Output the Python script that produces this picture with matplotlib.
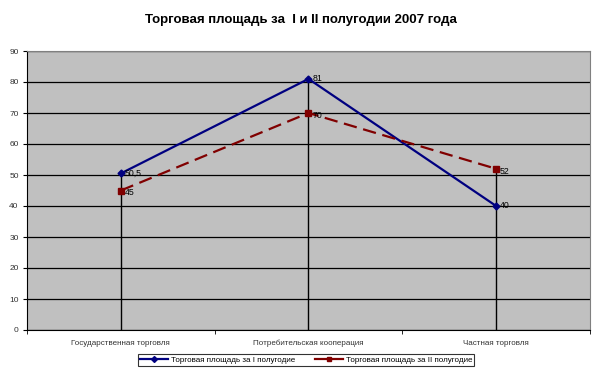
import matplotlib
matplotlib.use("Agg")
import matplotlib.pyplot as plt
import numpy as np

plt.rcParams['font.family'] = ['Liberation Sans', 'DejaVu Sans']

categories = ["Государственная торговля", "Потребительская кооперация", "Частная торговля"]
series1_name = "Торговая площадь за I полугодие"
series2_name = "Торговая площадь за II полугодие"
series1 = [50.5, 81, 40]
series2 = [45, 70, 52]
series1_labels = ["50,5", "81", "40"]
series2_labels = ["45", "70", "52"]
title = "Торговая площадь за  I и II полугодии 2007 года"

fig = plt.figure(figsize=(6.01, 3.74), dpi=100)
ax = fig.add_axes([27/601, 44/374, (590-27)/601, (330-51)/374])
ax.set_facecolor('#C0C0C0')

x = np.arange(len(categories))
ax.set_xlim(-0.5, len(categories) - 0.5)
ax.set_ylim(0, 90)
ax.set_yticks(np.arange(0, 91, 10))
ax.yaxis.grid(True, color='black', linewidth=0.9)
ax.set_axisbelow(True)

tops = np.maximum(series1, series2)
ax.vlines(x, 0, tops, color='black', linewidth=1.0, zorder=1.5)

ax.plot(x, series1, color='#000080', linewidth=1.6, marker='D', markersize=3.5, zorder=3)
ax.plot(x, series2, color='#800000', linewidth=1.6, linestyle=(0, (6, 3)), marker='s', markersize=4.5, zorder=3)

for xi, v, lab in zip(x, series1, series1_labels):
    ax.text(xi + 0.02, v, lab, fontsize=6.3, va='center', ha='left', zorder=4)
for xi, v, lab in zip(x, series2, series2_labels):
    ax.text(xi + 0.02, v - 0.8, lab, fontsize=6.3, va='center', ha='left', zorder=4)

ax.set_xticks(x)
ax.set_xticklabels(categories, fontsize=5.8, color='#333333')
ax.set_xticks(np.arange(-0.5, len(categories)), minor=True)
ax.tick_params(axis='x', which='major', length=0, pad=7)
ax.tick_params(axis='x', which='minor', length=3, direction='out', color='black')
ax.tick_params(axis='y', labelsize=6, length=3, direction='out', labelcolor='#333333', pad=3)

for side in ['top', 'right']:
    ax.spines[side].set_color('#808080')
ax.spines['left'].set_color('black')
ax.spines['bottom'].set_color('black')

fig.text(0.5, 1 - 20/374, title, ha='center', va='center', fontsize=9.5, fontweight='bold')

from matplotlib.lines import Line2D
handles = [
    Line2D([], [], color='#000080', linewidth=1.6, marker='D', markersize=3),
    Line2D([], [], color='#800000', linewidth=1.6, marker='s', markersize=3.5),
]
leg = fig.legend(handles, [series1_name, series2_name], loc='center', bbox_to_anchor=(306/601, 1 - 360/374),
                 ncol=2, fontsize=5.8, frameon=True, fancybox=False, edgecolor='black',
                 borderpad=0.3, handlelength=3.5, columnspacing=2.5, handletextpad=0.3)
leg.get_frame().set_linewidth(0.8)

fig.savefig('out.png', dpi=100)
